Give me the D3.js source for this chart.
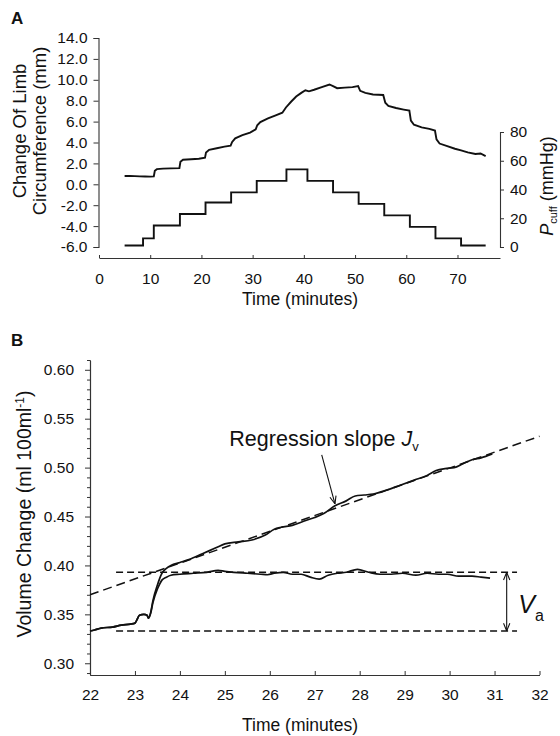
<!DOCTYPE html>
<html>
<head>
<meta charset="utf-8">
<script src="https://cdn.jsdelivr.net/npm/d3@7"></script>
<style>
  body { margin: 0; background: #fff; }
  svg { display: block; font-family: "Liberation Sans", Arial, sans-serif; }
</style>
</head>
<body>
<div id="chart"></div>
<script>
// ---- panel A data ----
const limbTime = [5.0, 6.0, 7.0, 8.0, 9.0, 10.0, 10.7, 10.9, 11.3, 12.5, 14.0, 15.7, 15.9, 16.4, 18.0, 19.5, 20.7,
  20.9, 21.5, 23.0, 24.5, 25.7, 26.0, 26.6, 28.0, 29.5, 30.6, 30.9, 31.5, 33.0, 34.5, 35.8, 36.5, 37.5, 38.5,
  39.5, 40.3, 41.0, 42.0, 43.5, 45.0, 45.7, 46.5, 48.0, 49.5, 50.6, 51.0, 52.0, 53.5, 55.5, 55.9, 56.5, 58.0,
  59.5, 60.6, 60.9, 61.5, 63.0, 64.5, 65.6, 65.9, 66.5, 68.0, 69.5, 70.7, 72.0, 73.5, 74.5, 75.5];
const limbMm = [0.80, 0.80, 0.78, 0.76, 0.74, 0.73, 0.75, 1.30, 1.45, 1.50, 1.52, 1.55, 2.15, 2.35, 2.40, 2.45, 2.55,
  3.05, 3.30, 3.45, 3.60, 3.70, 4.05, 4.40, 4.70, 4.95, 5.25, 5.65, 5.95, 6.30, 6.60, 6.85, 7.35, 7.90, 8.40,
  8.75, 9.00, 8.90, 9.05, 9.30, 9.55, 9.40, 9.20, 9.25, 9.30, 9.40, 8.95, 8.75, 8.60, 8.55, 7.80, 7.50, 7.30,
  7.15, 7.05, 6.10, 5.70, 5.45, 5.30, 5.15, 4.30, 3.90, 3.65, 3.40, 3.25, 3.05, 2.90, 2.95, 2.70];

const cuffTime = [5.0, 8.6, 10.7, 15.8, 20.8, 25.8, 30.8, 36.6, 40.7, 45.7, 50.7, 55.7, 60.7, 65.7, 70.7, 75.5];
const cuffMmHg = [1, 6, 15, 23, 31, 38, 46, 54, 46, 38, 30, 22, 14, 6, 1, 1];

const timeTicksA = [0, 10, 20, 30, 40, 50, 60, 70];
const limbTicks = [-6, -4, -2, 0, 2, 4, 6, 8, 10, 12, 14];
const cuffTicks = [0, 20, 40, 60, 80];

// ---- panel B data ----
const volTime = [22.0, 22.1, 22.25, 22.5, 22.7, 22.9, 23.0, 23.05, 23.1, 23.2, 23.27, 23.3, 23.35, 23.4, 23.5,
  23.6, 23.7, 23.8, 24.0, 24.2, 24.5, 24.8, 25.0, 25.3, 25.6, 25.9, 26.1, 26.25, 26.5, 26.8, 27.0, 27.2, 27.45,
  27.7, 27.9, 28.1, 28.3, 28.6, 28.9, 29.2, 29.5, 29.7, 29.9, 30.1, 30.3, 30.5, 30.7, 30.95];
const volTotal = [0.333, 0.334, 0.336, 0.337, 0.339, 0.340, 0.341, 0.345, 0.349, 0.350, 0.349, 0.346, 0.352, 0.364, 0.380,
  0.392, 0.397, 0.400, 0.403, 0.406, 0.412, 0.418, 0.422, 0.424, 0.426, 0.431, 0.437, 0.439, 0.441, 0.446, 0.449, 0.453, 0.461,
  0.466, 0.471, 0.472, 0.473, 0.477, 0.482, 0.487, 0.492, 0.497, 0.499, 0.500, 0.504, 0.508, 0.510, 0.514];

const plateauTime = [22.0, 22.1, 22.25, 22.5, 22.7, 22.9, 23.0, 23.05, 23.1, 23.2, 23.27, 23.3, 23.35, 23.4, 23.5,
  23.55, 23.6, 23.7, 23.8, 24.0, 24.3, 24.6, 24.85, 25.0, 25.2, 25.5, 25.8, 25.95, 26.1, 26.3, 26.5, 26.7, 26.9,
  27.1, 27.3, 27.5, 27.7, 27.95, 28.2, 28.45, 28.7, 28.95, 29.25, 29.5, 29.75, 29.95, 30.2, 30.5, 30.7, 30.9];
const plateauVol = [0.333, 0.334, 0.336, 0.337, 0.339, 0.340, 0.341, 0.345, 0.349, 0.350, 0.349, 0.346, 0.351, 0.362, 0.376,
  0.381, 0.385, 0.388, 0.390, 0.391, 0.392, 0.393, 0.395, 0.394, 0.393, 0.392, 0.391, 0.3905, 0.392, 0.393, 0.391, 0.391, 0.388,
  0.386, 0.390, 0.392, 0.393, 0.396, 0.393, 0.391, 0.391, 0.392, 0.390, 0.392, 0.391, 0.391, 0.389, 0.389, 0.388, 0.387];

const regressionTime = [22, 32];
const regressionVol = [0.370, 0.532];
const vaTop = 0.393, vaBottom = 0.333;
const vaLineTime = [22.58, 31.5];
const vaArrowTime = 31.27;

const timeTicksB = [22, 23, 24, 25, 26, 27, 28, 29, 30, 31, 32];
const volTicks = [0.30, 0.35, 0.40, 0.45, 0.50, 0.55, 0.60];
const volMinorTicks = d3.range(29, 62).map(d => d / 100).filter(d => Math.round(d * 100) % 5 !== 0);

const width = 560, height = 736;
const ink = "#111";

const svg = d3.select("#chart").append("svg")
  .attr("width", width)
  .attr("height", height);

svg.append("rect").attr("width", width).attr("height", height).attr("fill", "#fff");

const defs = svg.append("defs");
defs.append("marker")
  .attr("id", "head")
  .attr("viewBox", "0 0 10 10")
  .attr("refX", 9.5).attr("refY", 5)
  .attr("markerWidth", 9).attr("markerHeight", 9)
  .attr("markerUnits", "userSpaceOnUse")
  .attr("orient", "auto-start-reverse")
  .append("path")
  .attr("d", "M1,1.5 L9.5,5 L1,8.5")
  .attr("fill", "none")
  .attr("stroke", ink)
  .attr("stroke-width", 1.2);

function styleAxis(g, size) {
  g.selectAll(".domain").attr("stroke", "#333").attr("stroke-width", 1.1);
  g.selectAll(".tick line").attr("stroke", "#333").attr("stroke-width", 1);
  g.selectAll(".tick text").attr("fill", ink).style("font-size", size + "px");
}

// ================= PANEL A =================
const xA = d3.scaleLinear().domain([0, 78.3]).range([99, 500]);
const yA = d3.scaleLinear().domain([-6, 14]).range([247, 38]);
const yP = d3.scaleLinear().domain([0, 80]).range([247, 132]);

const gxA = svg.append("g")
  .attr("transform", "translate(0,258)")
  .call(d3.axisBottom(xA).tickValues(timeTicksA).tickSizeInner(-3).tickSizeOuter(0).tickPadding(15));
styleAxis(gxA, 15.5);

const gyA = svg.append("g")
  .attr("transform", "translate(98.5,0)")
  .call(d3.axisLeft(yA).tickValues(limbTicks).tickFormat(d => d.toFixed(1)).tickSize(5).tickPadding(6));
styleAxis(gyA, 15.5);

const gyP = svg.append("g")
  .attr("transform", "translate(500,0)")
  .call(d3.axisRight(yP).tickValues(cuffTicks).tickSize(4).tickPadding(6));
styleAxis(gyP, 15.5);

const lineA = d3.line().x(d => xA(d[0])).y(d => yA(d[1]));
svg.append("path")
  .datum(d3.zip(limbTime, limbMm))
  .attr("d", lineA)
  .attr("fill", "none").attr("stroke", ink).attr("stroke-width", 1.9);

const lineP = d3.line().x(d => xA(d[0])).y(d => yP(d[1])).curve(d3.curveStepAfter);
svg.append("path")
  .datum(d3.zip(cuffTime, cuffMmHg))
  .attr("d", lineP)
  .attr("fill", "none").attr("stroke", ink).attr("stroke-width", 1.9);

svg.append("text").attr("x", 11).attr("y", 24)
  .attr("font-weight", "bold").attr("font-size", 17).attr("fill", ink).text("A");

svg.append("text").attr("transform", "translate(26,131) rotate(-90)")
  .attr("text-anchor", "middle").attr("font-size", 18.5).attr("fill", ink).text("Change Of Limb");
svg.append("text").attr("transform", "translate(46,131) rotate(-90)")
  .attr("text-anchor", "middle").attr("font-size", 18.5).attr("fill", ink).text("Circumference (mm)");

const pTitle = svg.append("text").attr("transform", "translate(553,186) rotate(-90)")
  .attr("text-anchor", "middle").attr("font-size", 18).attr("fill", ink);
pTitle.append("tspan").attr("font-style", "italic").text("P");
pTitle.append("tspan").attr("font-size", 11).attr("dy", 4).text("cuff");
pTitle.append("tspan").attr("dy", -4).text(" (mmHg)");

svg.append("text").attr("x", 300).attr("y", 304.5)
  .attr("text-anchor", "middle").attr("font-size", 17.5).attr("fill", ink).text("Time (minutes)");

// ================= PANEL B =================
const xB = d3.scaleLinear().domain([22, 32]).range([90, 539.5]);
const yB = d3.scaleLinear().domain([0.288, 0.61]).range([675, 360]);

const gxB = svg.append("g")
  .attr("transform", "translate(0,675)")
  .call(d3.axisBottom(xB).tickValues(timeTicksB).tickSizeInner(-4).tickSizeOuter(0).tickPadding(14));
styleAxis(gxB, 15.5);

const gyBminor = svg.append("g")
  .attr("transform", "translate(90,0)")
  .call(d3.axisLeft(yB).tickValues(volMinorTicks).tickFormat("").tickSize(3).tickSizeOuter(0));
styleAxis(gyBminor, 15.5);

const gyB = svg.append("g")
  .attr("transform", "translate(90,0)")
  .call(d3.axisLeft(yB).tickValues(volTicks).tickFormat(d => d.toFixed(2)).tickSize(5).tickSizeOuter(0).tickPadding(11));
styleAxis(gyB, 15.5);

const lineB = d3.line().x(d => xB(d[0])).y(d => yB(d[1])).curve(d3.curveMonotoneX);

// dashed references
svg.append("path")
  .datum(d3.zip(regressionTime, regressionVol))
  .attr("d", d3.line().x(d => xB(d[0])).y(d => yB(d[1])))
  .attr("fill", "none").attr("stroke", ink).attr("stroke-width", 1.5).attr("stroke-dasharray", "9,5");

[vaTop, vaBottom].forEach(v => {
  svg.append("path")
    .datum(vaLineTime.map(t => [t, v]))
    .attr("d", d3.line().x(d => xB(d[0])).y(d => yB(d[1])))
    .attr("fill", "none").attr("stroke", ink).attr("stroke-width", 1.5).attr("stroke-dasharray", "7,4");
});

svg.append("path")
  .datum(d3.zip(volTime, volTotal))
  .attr("d", lineB)
  .attr("fill", "none").attr("stroke", ink).attr("stroke-width", 1.7);

svg.append("path")
  .datum(d3.zip(plateauTime, plateauVol))
  .attr("d", lineB)
  .attr("fill", "none").attr("stroke", ink).attr("stroke-width", 1.7);

// Va double arrow
svg.append("line")
  .attr("x1", xB(vaArrowTime)).attr("x2", xB(vaArrowTime))
  .attr("y1", yB(vaTop)).attr("y2", yB(vaBottom))
  .attr("stroke", ink).attr("stroke-width", 1.1)
  .attr("marker-start", "url(#head)").attr("marker-end", "url(#head)");

const va = svg.append("text").attr("x", xB(31.53)).attr("y", yB(0.351))
  .attr("font-size", 25).attr("fill", ink);
va.append("tspan").attr("font-style", "italic").text("V");
va.append("tspan").attr("font-size", 16).attr("dy", 8).text("a");

// regression annotation
svg.append("line")
  .attr("x1", xB(27.155)).attr("y1", yB(0.513))
  .attr("x2", xB(27.45)).attr("y2", yB(0.463))
  .attr("stroke", ink).attr("stroke-width", 1.1)
  .attr("marker-end", "url(#head)");

const reg = svg.append("text").attr("x", xB(25.1)).attr("y", yB(0.5216))
  .attr("font-size", 21.5).attr("fill", ink);
reg.append("tspan").text("Regression slope ");
reg.append("tspan").attr("font-style", "italic").text("J");
reg.append("tspan").attr("font-size", 13).attr("dy", 5).text("v");

svg.append("text").attr("x", 11).attr("y", 346)
  .attr("font-weight", "bold").attr("font-size", 17).attr("fill", ink).text("B");

const vTitle = svg.append("text").attr("transform", "translate(31,514) rotate(-90)")
  .attr("text-anchor", "middle").attr("font-size", 19.5).attr("fill", ink);
vTitle.append("tspan").text("Volume Change (ml 100ml");
vTitle.append("tspan").attr("font-size", 12).attr("dy", -7).text("-1");
vTitle.append("tspan").attr("dy", 7).text(")");

svg.append("text").attr("x", 300).attr("y", 731)
  .attr("text-anchor", "middle").attr("font-size", 17.5).attr("fill", ink).text("Time (minutes)");
</script>
</body>
</html>
